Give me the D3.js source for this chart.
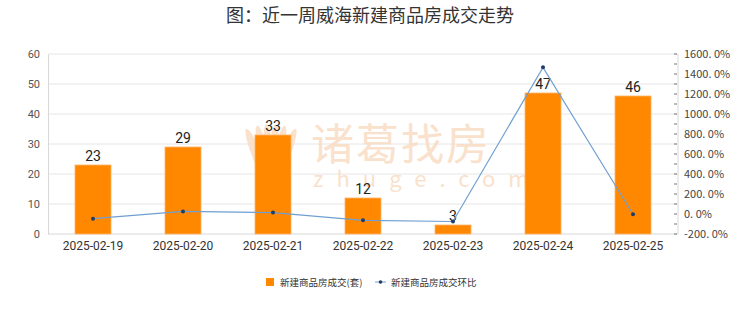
<!DOCTYPE html>
<html>
<head>
<meta charset="utf-8">
<script src="https://cdn.jsdelivr.net/npm/d3@7"></script>
<style>
  body { margin: 0; background: #fff; }
  text { font-family: "Noto Sans CJK SC", "Noto Sans", sans-serif; }
</style>
</head>
<body>
<div id="chart"></div>
<script>
// chart data
var dates = ["2025-02-19", "2025-02-20", "2025-02-21", "2025-02-22", "2025-02-23", "2025-02-24", "2025-02-25"]
var deals = [23, 29, 33, 12, 3, 47, 46]
var ratio = [-46.5, 26.1, 13.8, -63.6, -75.0, 1466.7, -2.1]
var leftTicks = [0, 10, 20, 30, 40, 50, 60]
var rightTicks = [-200, 0, 200, 400, 600, 800, 1000, 1200, 1400, 1600]

var W = 740, H = 312
var margin = {top: 54, right: 62, bottom: 78, left: 48},
    width = W - margin.left - margin.right,
    height = H - margin.top - margin.bottom;

var svg = d3.select("#chart")
  .append("svg")
    .attr("width", W)
    .attr("height", H)

var g = svg.append("g")
    .attr("transform", "translate(" + margin.left + "," + margin.top + ")");

// title
svg.append("text")
  .attr("x", W / 2)
  .attr("y", 22)
  .attr("text-anchor", "middle")
  .attr("font-size", 18)
  .attr("fill", "#333")
  .text("图：近一周威海新建商品房成交走势")

var x = d3.scaleBand()
  .domain(dates)
  .range([0, width])
  .paddingInner(0.6)
  .paddingOuter(0.3)

var y = d3.scaleLinear().domain([0, 60]).range([height, 0])
var y2 = d3.scaleLinear().domain([-200, 1600]).range([height, 0])

// gridlines
g.selectAll(".grid")
  .data(leftTicks)
  .enter()
  .append("line")
    .attr("x1", 0)
    .attr("x2", width)
    .attr("y1", function(d) { return y(d); })
    .attr("y2", function(d) { return y(d); })
    .attr("stroke", function(d) { return d === 0 ? "#d8d8d8" : "#e6e6e6"; })

// watermark (behind the bars)
var wm = g.append("g").attr("fill", "#f9dcc3").attr("opacity", 0.85)
wm.append("text")
  .attr("x", 263)
  .attr("y", 106)
  .attr("font-size", 43)
  .attr("letter-spacing", 2)
  .text("诸葛找房")
wm.append("text")
  .attr("x", 265)
  .attr("y", 133)
  .attr("font-size", 22)
  .attr("letter-spacing", 13)
  .text("zhuge.com")
var logo = wm.append("g").attr("transform", "translate(223,136)")
;[-22, -12, -4, 4, 12, 22].forEach(function(a) {
  logo.append("ellipse")
    .attr("cx", 0).attr("cy", -34)
    .attr("rx", 5).attr("ry", 32)
    .attr("transform", "rotate(" + a + ")")
})

// left axis
var yAxis = g.append("g")
  .call(d3.axisLeft(y).tickValues(leftTicks).tickSize(0).tickPadding(8))
yAxis.select(".domain").attr("stroke", "#d8d8d8")
yAxis.selectAll("text").attr("fill", "#555").attr("font-size", 11).style("font-family", "Roboto, sans-serif")

// right axis
var minor = d3.range(-200, 1601, 100)
var rAxis = g.append("g")
  .attr("transform", "translate(" + width + ",0)")
rAxis.append("line")
  .attr("y1", 0).attr("y2", height)
  .attr("stroke", "#d8d8d8")
rAxis.selectAll(".mt")
  .data(minor)
  .enter()
  .append("line")
    .attr("x1", -4).attr("x2", -1)
    .attr("y1", function(d) { return y2(d); })
    .attr("y2", function(d) { return y2(d); })
    .attr("stroke", "#777")
rAxis.selectAll(".rl")
  .data(rightTicks)
  .enter()
  .append("text")
    .attr("x", 6)
    .attr("y", function(d) { return y2(d) + 4; })
    .attr("font-size", 11)
    .attr("fill", "#444")
    .text(function(d) { return d.toFixed(0) + ". 0%"; })

// x axis labels
g.selectAll(".xl")
  .data(dates)
  .enter()
  .append("text")
    .attr("x", function(d) { return x(d) + x.bandwidth() / 2; })
    .attr("y", height + 16)
    .attr("text-anchor", "middle")
    .attr("font-size", 12)
    .attr("fill", "#333")
    .style("font-family", "Roboto, sans-serif")
    .text(function(d) { return d; })

// bars
g.selectAll(".bar")
  .data(deals)
  .enter()
  .append("rect")
    .attr("x", function(d, i) { return x(dates[i]); })
    .attr("y", function(d) { return y(d); })
    .attr("width", x.bandwidth())
    .attr("height", function(d) { return height - y(d); })
    .attr("fill", "#ff8800")
    .attr("stroke", "#ffb466")
    .attr("stroke-width", 0.8)

g.selectAll(".bl")
  .data(deals)
  .enter()
  .append("text")
    .attr("x", function(d, i) { return x(dates[i]) + x.bandwidth() / 2; })
    .attr("y", function(d) { return y(d) - 4; })
    .attr("text-anchor", "middle")
    .attr("font-size", 14)
    .attr("fill", "#222")
    .style("font-family", "Roboto, sans-serif")
    .text(function(d) { return d; })

// ratio line
var line = d3.line()
  .x(function(d, i) { return x(dates[i]) + x.bandwidth() / 2; })
  .y(function(d) { return y2(d); })

g.append("path")
  .datum(ratio)
  .attr("d", line)
  .attr("fill", "none")
  .attr("stroke", "#6f9fd2")
  .attr("stroke-width", 1.2)

g.selectAll(".pt")
  .data(ratio)
  .enter()
  .append("circle")
    .attr("cx", function(d, i) { return x(dates[i]) + x.bandwidth() / 2; })
    .attr("cy", function(d) { return y2(d); })
    .attr("r", 2)
    .attr("fill", "#1f3d6b")

// legend
var lg = svg.append("g").attr("transform", "translate(266,282)")
lg.append("rect")
  .attr("x", 0).attr("y", -4)
  .attr("width", 8).attr("height", 8)
  .attr("fill", "#ff8800")
lg.append("text")
  .attr("x", 14).attr("y", 3.5)
  .attr("font-size", 9.5)
  .attr("fill", "#333")
  .text("新建商品房成交(套)")
lg.append("line")
  .attr("x1", 109).attr("x2", 120)
  .attr("y1", 0).attr("y2", 0)
  .attr("stroke", "#6f9fd2")
lg.append("circle")
  .attr("cx", 114.5).attr("cy", 0).attr("r", 1.8)
  .attr("fill", "#1f3d6b")
lg.append("text")
  .attr("x", 125).attr("y", 3.5)
  .attr("font-size", 9.5)
  .attr("fill", "#333")
  .text("新建商品房成交环比")
</script>
</body>
</html>
